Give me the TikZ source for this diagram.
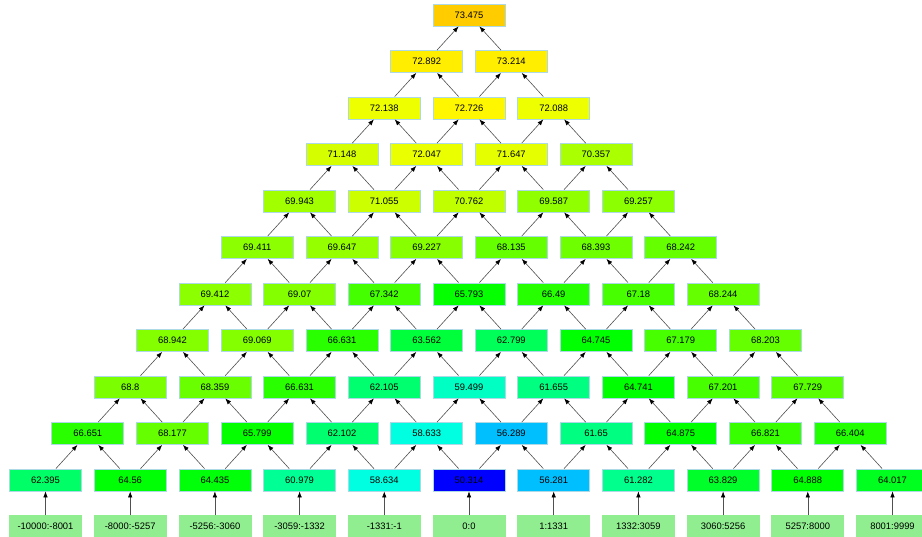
\documentclass[tikz,border=0pt]{standalone}
\usepackage{fontspec}
\setmainfont{Liberation Sans}
\usetikzlibrary{arrows.meta}
\definecolor{boxborder}{RGB}{173,216,230}
\definecolor{lgreen}{RGB}{144,238,144}
\definecolor{edgegray}{RGB}{80,80,80}
\begin{document}
\begin{tikzpicture}[x=1pt,y=-1pt,
  box/.style={draw=boxborder, line width=0.8pt, minimum width=72pt, minimum height=22pt,
    inner sep=0pt, font=\fontsize{9.4}{11}\selectfont},
  heat/.code={\convertcolorspec{Hsb}{#1,1,1}{rgb}\myrgb
    \edef\tmpdef{\noexpand\definecolor{heatc}{rgb}{\myrgb}}\tmpdef
    \pgfkeysalso{fill=heatc}},
  labbox/.style={box, draw=lgreen, fill=lgreen},
  edge/.style={draw=edgegray, line width=0.6pt, -{Latex[length=6pt,width=4.5pt,color=black]}}
]
\useasboundingbox (0,0) rectangle (922,537);
\foreach \vals [count=\n] in {
  {73.475/48},
  {72.892/56,73.214/56},
  {72.138/64,72.726/58,72.088/64},
  {71.148/70,72.047/65,71.647/66,70.357/80},
  {69.943/82,71.055/72,70.762/75,69.587/86,69.257/87},
  {69.411/87,69.647/85,69.227/88,68.135/96,68.393/94,68.242/96},
  {69.412/87,69.07/89,67.342/104,65.793/119,66.49/111,67.18/103,68.244/96},
  {68.942/89,69.069/89,66.631/110,63.562/134,62.799/141,64.745/120,67.179/103,68.203/96},
  {68.8/91,68.359/95,66.631/110,62.105/146,59.499/166,61.655/150,64.741/120,67.201/103,67.729/99},
  {66.651/110,68.177/96,65.799/119,62.102/146,58.633/173,56.289/195,61.65/150,64.875/120,66.821/107,66.404/112},
  {62.395/144,64.56/121,64.435/122,60.979/155,58.634/173,50.314/240,56.281/195,61.282/153,63.829/130,64.888/120,64.017/127}}{
  \foreach \v/\h [count=\i] in \vals {
    \node[box, heat=\h] (n\n-\i) at ({45.5+(11-\n)*42.35+(\i-1)*84.7}, {15+(\n-1)*46.5}) {\v};
  }
}
\foreach \l [count=\i] in {-10000:-8001,-8000:-5257,-5256:-3060,-3059:-1332,-1331:-1,0:0,1:1331,1332:3059,3060:5256,5257:8000,8001:9999}{
  \node[labbox] (lab-\i) at ({45.5+(\i-1)*84.7}, 526.5) {\l};
}
\foreach \n in {1,...,10}{
  \pgfmathtruncatemacro\m{\n+1}
  \foreach \i in {1,...,\n}{
    \pgfmathtruncatemacro\j{\i+1}
    \draw[edge] (n\m-\i) -- (n\n-\i);
    \draw[edge] (n\m-\j) -- (n\n-\i);
  }
}
\foreach \i in {1,...,11}{
  \draw[edge] (lab-\i) -- (n11-\i);
}
\end{tikzpicture}
\end{document}
